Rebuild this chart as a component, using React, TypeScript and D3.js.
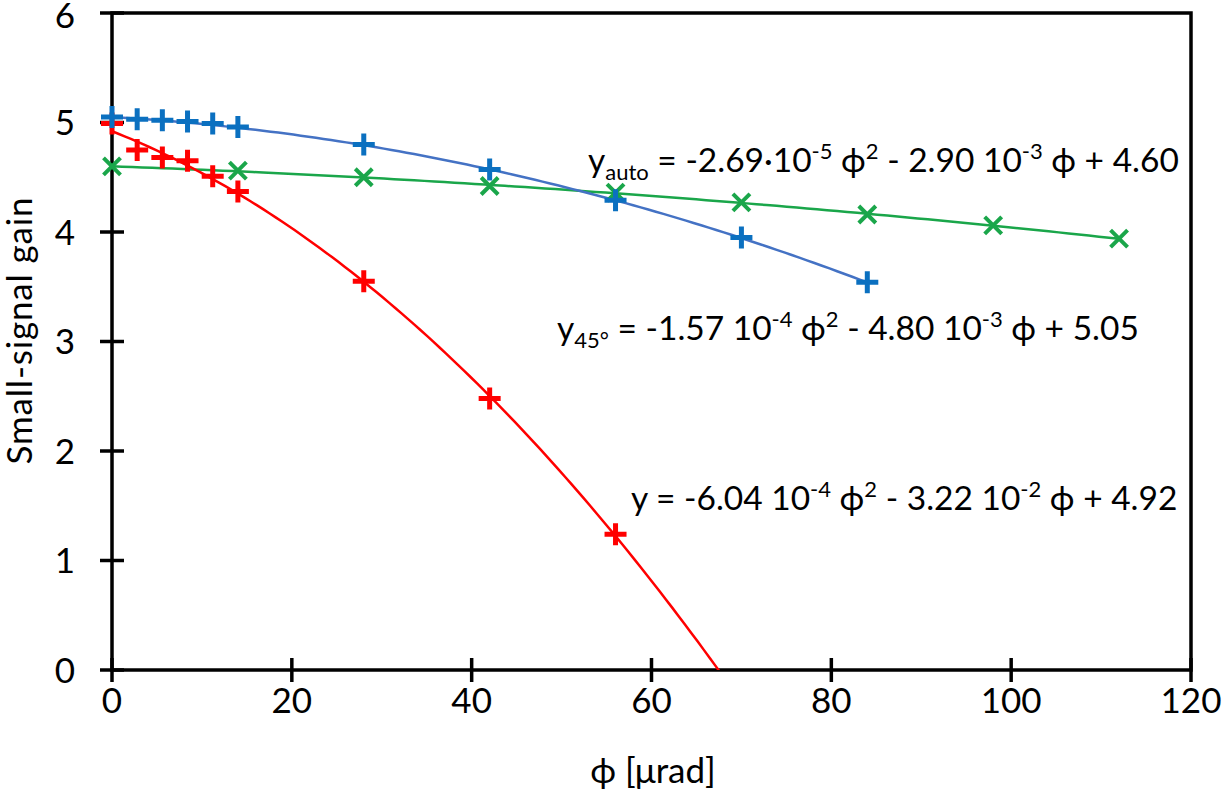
import React, { useEffect, useRef } from 'react';
import * as d3 from 'd3';

// phi [µrad] positions of the measurements
const phiFine = [0, 2.8, 5.6, 8.4, 11.2, 14, 28, 42, 56, 70, 84];
const gain45 = [5.05, 5.03, 5.02, 5.01, 4.99, 4.96, 4.8, 4.57, 4.29, 3.95, 3.54];

const phiRed = [0, 2.8, 5.6, 8.4, 11.2, 14, 28, 42, 56];
const gainRed = [4.99, 4.75, 4.68, 4.65, 4.51, 4.37, 3.55, 2.48, 1.24];

const phiAuto = [0, 14, 28, 42, 56, 70, 84, 98, 112];
const gainAuto = [4.6, 4.56, 4.5, 4.42, 4.36, 4.27, 4.16, 4.06, 3.94];

// quadratic trendline coefficients [a, b, c] as printed on the chart
const fit45 = [-1.57e-4, -4.8e-3, 5.05];
const fitRed = [-6.04e-4, -3.22e-2, 4.92];
const fitAuto = [-2.69e-5, -2.9e-3, 4.6];

const xTicks = [0, 20, 40, 60, 80, 100, 120];
const yTicks = [0, 1, 2, 3, 4, 5, 6];

const W = 1222;
const H = 796;
const FONT = 'Lato, "Open Sans", sans-serif';

export default function App() {
  const svgRef = useRef<SVGSVGElement>(null);

  useEffect(() => {
    const svg = d3.select(svgRef.current);
    svg.selectAll('*').remove();

    const x = d3.scaleLinear().domain([0, 120]).range([112, 1191]);
    const y = d3.scaleLinear().domain([0, 6]).range([670, 13]);

    svg.append('defs')
      .append('clipPath')
      .attr('id', 'plot-clip')
      .append('rect')
      .attr('x', x(0))
      .attr('y', y(6))
      .attr('width', x(120) - x(0))
      .attr('height', y(0) - y(6));

    // frame + ticks
    svg.append('rect')
      .attr('x', x(0))
      .attr('y', y(6))
      .attr('width', x(120) - x(0))
      .attr('height', y(0) - y(6))
      .attr('fill', 'none')
      .attr('stroke', '#000')
      .attr('stroke-width', 3.5);

    svg.selectAll('.ytick')
      .data(yTicks)
      .enter()
      .append('line')
      .attr('x1', x(0) - 12)
      .attr('x2', x(0) + 12)
      .attr('y1', d => y(d))
      .attr('y2', d => y(d))
      .attr('stroke', '#000')
      .attr('stroke-width', 3.5);

    svg.selectAll('.xtick')
      .data(xTicks)
      .enter()
      .append('line')
      .attr('x1', d => x(d))
      .attr('x2', d => x(d))
      .attr('y1', y(0) - 12)
      .attr('y2', y(0) + 12)
      .attr('stroke', '#000')
      .attr('stroke-width', 3.5);

    svg.selectAll('.ylab')
      .data(yTicks)
      .enter()
      .append('text')
      .attr('x', 75)
      .attr('y', d => Math.max(y(d), 15))
      .attr('dy', '0.36em')
      .attr('text-anchor', 'end')
      .style('font-family', FONT)
      .style('font-size', '35px')
      .text(d => d);

    svg.selectAll('.xlab')
      .data(xTicks)
      .enter()
      .append('text')
      .attr('x', d => x(d))
      .attr('y', 713)
      .attr('text-anchor', 'middle')
      .style('font-family', FONT)
      .style('font-size', '35px')
      .text(d => d);

    svg.append('text')
      .attr('x', 653)
      .attr('y', 783)
      .attr('text-anchor', 'middle')
      .style('font-family', FONT)
      .style('font-size', '35px')
      .text('ϕ [μrad]');

    svg.append('text')
      .attr('transform', 'translate(32,331) rotate(-90)')
      .attr('text-anchor', 'middle')
      .attr('textLength', 267)
      .style('font-family', FONT)
      .style('font-size', '35px')
      .text('Small-signal gain');

    const plot = svg.append('g').attr('clip-path', 'url(#plot-clip)');

    const poly = (c: number[]) => (p: number) => c[0] * p * p + c[1] * p + c[2];
    const curve = (c: number[], x0: number, x1: number) =>
      d3.range(0, 101).map(i => {
        const p = x0 + ((x1 - x0) * i) / 100;
        return [p, poly(c)(p)] as [number, number];
      });
    const line = d3.line<[number, number]>().x(d => x(d[0])).y(d => y(d[1]));

    const trends = [
      { c: fitAuto, from: 0, to: 112, color: '#1aa64a' },
      { c: fit45, from: 0, to: 84, color: '#4472c4' },
      { c: fitRed, from: 0, to: 70, color: '#ff0000' },
    ];
    trends.forEach(t => {
      plot.append('path')
        .attr('d', line(curve(t.c, t.from, t.to)))
        .attr('fill', 'none')
        .attr('stroke', t.color)
        .attr('stroke-width', 2.5);
    });

    const plus = (px: number[], gy: number[], color: string) => {
      const g = svg.append('g');
      px.forEach((p, i) => {
        const cx = x(p);
        const cy = y(gy[i]);
        g.append('path')
          .attr('d', `M${cx - 11},${cy}H${cx + 11}M${cx},${cy - 11}V${cy + 11}`)
          .attr('stroke', color)
          .attr('stroke-width', 5)
          .attr('fill', 'none');
      });
    };
    const cross = (px: number[], gy: number[], color: string) => {
      const g = svg.append('g');
      px.forEach((p, i) => {
        const cx = x(p);
        const cy = y(gy[i]);
        const r = 8.5;
        g.append('path')
          .attr('d', `M${cx - r},${cy - r}L${cx + r},${cy + r}M${cx - r},${cy + r}L${cx + r},${cy - r}`)
          .attr('stroke', color)
          .attr('stroke-width', 4)
          .attr('fill', 'none');
      });
    };

    cross(phiAuto, gainAuto, '#1aa64a');
    plus(phiRed, gainRed, '#ff0000');
    plus(phiFine, gain45, '#0b70c0');

    const eq = (tx: number, ty: number, parts: Array<[string, number]>) => {
      const t = svg.append('text')
        .attr('x', tx)
        .attr('y', ty)
        .style('font-family', FONT)
        .style('font-size', '33.5px');
      let level = 0;
      parts.forEach(([s, shift]) => {
        const sp = t.append('tspan').text(s).attr('dy', shift - level);
        if (shift !== 0) sp.style('font-size', '22px');
        level = shift;
      });
    };

    eq(588, 172, [
      ['y', 0], ['auto', 8], [' = -2.69·10', 0], ['-5', -13], [' ϕ', 0], ['2', -13],
      [' - 2.90 10', 0], ['-3', -13], [' ϕ + 4.60', 0],
    ]);
    eq(557, 340, [
      ['y', 0], ['45°', 8], [' = -1.57 10', 0], ['-4', -13], [' ϕ', 0], ['2', -13],
      [' - 4.80 10', 0], ['-3', -13], [' ϕ + 5.05', 0],
    ]);
    eq(631, 510, [
      ['y = -6.04 10', 0], ['-4', -13], [' ϕ', 0], ['2', -13],
      [' - 3.22 10', 0], ['-2', -13], [' ϕ + 4.92', 0],
    ]);
  }, []);

  return (
    <svg
      ref={svgRef}
      width={W}
      height={H}
      style={{ position: 'absolute', left: 0, top: 0, background: '#fff' }}
    />
  );
}
